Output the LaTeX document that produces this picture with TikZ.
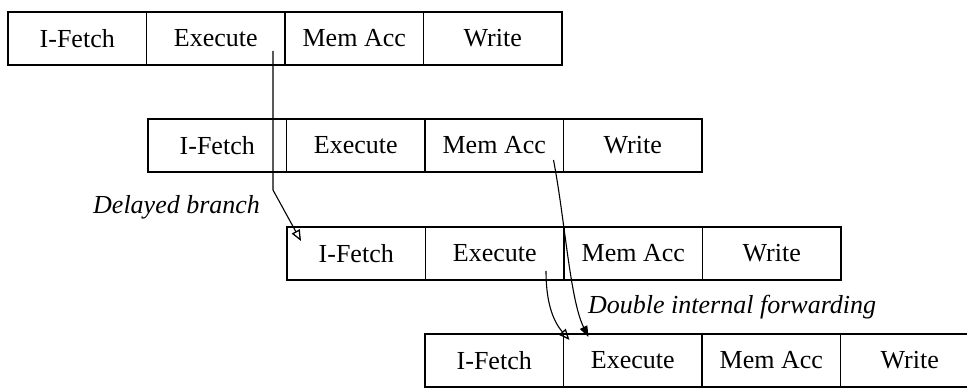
\documentclass[tikz,border=0pt]{standalone}
\usepackage{fontspec}
\setmainfont{Liberation Serif}
\usetikzlibrary{arrows.meta,calc}

\tikzset{
  cell/.style={draw, line width=1.5pt, minimum width=138.5pt, minimum height=53pt,
               inner sep=0pt, outer sep=0pt, font=\fontsize{26}{30}\selectfont},
  lab/.style={inner sep=0pt, font=\fontsize{26}{30}\selectfont\itshape},
  link/.style={line width=1.1pt},
  opentip/.style={-{Triangle[open, length=11pt, width=9pt, line width=1.3pt]}},
  solidtip/.style={-{Triangle[length=11pt, width=8pt]}}
}

\begin{document}
\begin{tikzpicture}[x=1pt, y=-1pt]
\useasboundingbox (0,0) rectangle (967,390);
\clip (0,0) rectangle (967,390);

% four staggered pipeline rows
\foreach \r/\x/\y in {1/8/12, 2/148/119, 3/287/227, 4/425/334} {
  \node[cell, anchor=north west] (r\r a) at (\x,\y) {I-Fetch};
  \node[cell, anchor=west] (r\r b) at (r\r a.east) {Execute};
  \node[cell, anchor=west] (r\r c) at (r\r b.east) {Mem Acc};
  \node[cell, anchor=west] (r\r d) at (r\r c.east) {Write};
}

% labels
\node[lab, anchor=base west] (db) at (93,214) {Delayed branch};
\node[lab, anchor=base west] (dif) at (588,313) {Double internal forwarding};

% delayed branch: Execute of row 1 to I-Fetch of row 3
\coordinate (s1) at ($(r1b.north east)+(-12,39)$);
\coordinate (k1) at (273,190);
\coordinate (t1) at ($(r3a.north west)+(14,14)$);
\draw[link, opentip] (s1) -- (k1) -- (t1);

% forwarding from Mem Acc of row 2 to Execute of row 4
\coordinate (s2) at ($(r2c.north east)+(-10,41)$);
\coordinate (t2) at ($(r4b.north west)+(25,3)$);
\draw[link, solidtip] (s2) .. controls (565,220) and (570,300) .. (t2);

% forwarding from Execute of row 3 to Execute of row 4
\coordinate (s3) at ($(r3b.north east)+(-18,44)$);
\coordinate (t3) at ($(r4b.north west)+(6,6)$);
\draw[link, opentip] (s3) .. controls (546,300) and (552,320) .. (t3);
\end{tikzpicture}
\end{document}
